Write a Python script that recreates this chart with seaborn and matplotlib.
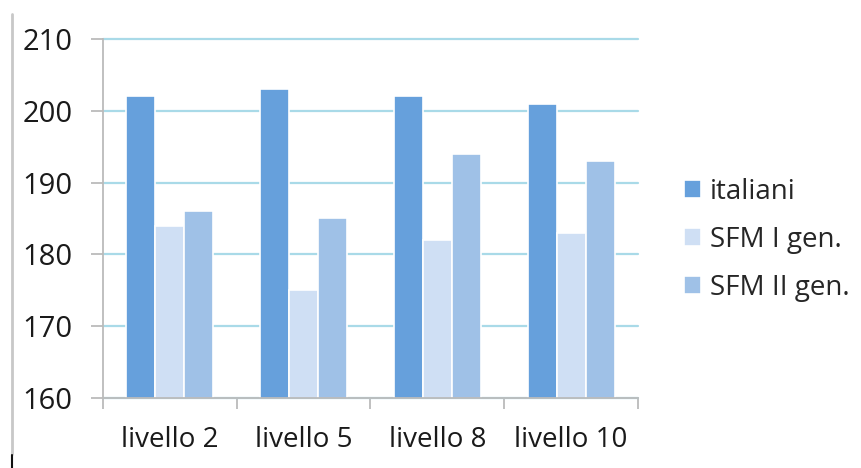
import matplotlib
matplotlib.use("Agg")
import matplotlib.pyplot as plt
from matplotlib.lines import Line2D
from matplotlib.ticker import FixedLocator
import seaborn as sns
import pandas as pd

livelli = ["livello 2", "livello 5", "livello 8", "livello 10"]
gruppi = ["italiani", "SFM I gen.", "SFM II gen."]
italiani = [202, 203, 202, 201]
sfm_1 = [184, 175, 182, 183]
sfm_2 = [186, 185, 194, 193]
y_ticks = [160, 170, 180, 190, 200, 210]

colori = ["#66A0DC", "#CFDFF4", "#9FC1E7"]

rows = []
for serie, nome in zip([italiani, sfm_1, sfm_2], gruppi):
    for liv, v in zip(livelli, serie):
        rows.append({"livello": liv, "gruppo": nome, "valore": v})
df = pd.DataFrame(rows)

sns.set_theme(style="white")
plt.rcParams["font.family"] = ["Open Sans", "DejaVu Sans"]

fig = plt.figure(figsize=(8.61, 4.68), dpi=100)
ax = fig.add_axes([0.1196, 0.1496, 0.6214, 0.7671])

sns.barplot(data=df, x="livello", y="valore", hue="gruppo", order=livelli,
            hue_order=gruppi, palette=colori, saturation=1, width=0.65,
            edgecolor="white", linewidth=1.2, ax=ax)

ax.set_ylim(160, 210)
ax.set_xlim(-0.5, len(livelli) - 0.5)
ax.set_yticks(y_ticks)
ax.set_xlabel("")
ax.set_ylabel("")
ax.set_axisbelow(True)
ax.yaxis.grid(True, color="#A9DAE8", linewidth=1.6)
ax.xaxis.grid(False)
for gl in ax.get_ygridlines():
    gl.set_clip_on(False)

for s in ["top", "right"]:
    ax.spines[s].set_visible(False)
for s in ["left", "bottom"]:
    ax.spines[s].set_color("#BBBBBB")
    ax.spines[s].set_linewidth(1.3)

ax.tick_params(axis="y", which="major", length=9, width=1.3, color="#BBBBBB",
               labelsize=21, labelcolor="#1a1a1a", pad=13, left=True)
ax.tick_params(axis="x", which="major", length=0, labelsize=20,
               labelcolor="#1a1a1a", pad=20)
ax.xaxis.set_minor_locator(FixedLocator([i - 0.5 for i in range(len(livelli) + 1)]))
ax.tick_params(axis="x", which="minor", length=8, width=1.3, color="#BBBBBB",
               bottom=True)

leg = ax.legend(loc="center left", bbox_to_anchor=(1.065, 0.44), frameon=False,
                borderaxespad=0, fontsize=20, handlelength=0.6, handleheight=0.6,
                handletextpad=0.35, labelspacing=0.72)
for h in leg.legend_handles:
    h.set_edgecolor("white")

# left page border
fig.add_artist(Line2D([0.014, 0.014], [0.03, 0.97], color="#C8C8C8",
                      linewidth=2, transform=fig.transFigure))
fig.add_artist(Line2D([0.014, 0.014], [0.0, 0.028], color="#111111",
                      linewidth=1.5, transform=fig.transFigure))

fig.savefig("out.png", dpi=100)
